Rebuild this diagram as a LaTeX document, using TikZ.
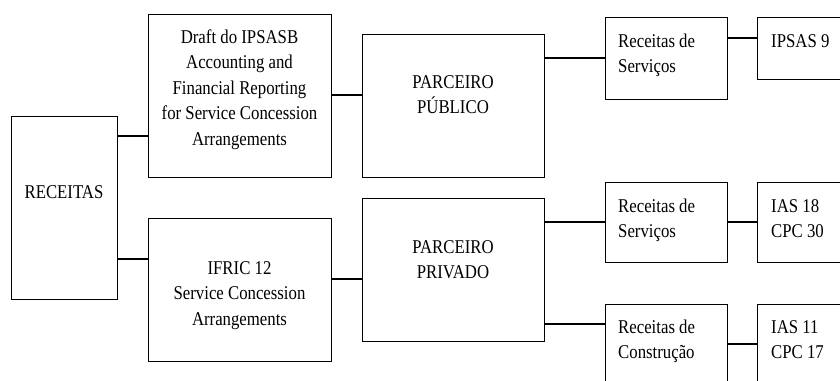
\documentclass[tikz,border=0pt]{standalone}
\usepackage{fontspec}
\setmainfont{Liberation Serif}[FakeStretch=0.86]
\begin{document}
\begin{tikzpicture}[x=1pt,y=-1pt,
  box/.style={draw, line width=1.2pt, inner sep=0pt, anchor=north west},
  link/.style={line width=1.2pt},
  txt/.style={inner sep=0pt, font=\fontsize{19.5}{25.5}\selectfont},
  ctxt/.style={txt, align=center, anchor=north},
  ltxt/.style={txt, align=left, anchor=north west}]
\useasboundingbox (0,0) rectangle (840,380);
\clip (0,0) rectangle (840,380);
% boxes
\node[box, minimum width=106pt, minimum height=183pt] (rec)   at (11,116) {};
\node[box, minimum width=183pt, minimum height=163pt] (draft) at (148,14) {};
\node[box, minimum width=183pt, minimum height=143pt] (ifric) at (148,218) {};
\node[box, minimum width=182pt, minimum height=143pt] (pub)   at (362,34) {};
\node[box, minimum width=182pt, minimum height=143pt] (priv)  at (362,198) {};
\node[box, minimum width=122pt, minimum height=82pt]  (rs1)   at (605,17) {};
\node[box, minimum width=120pt, minimum height=62pt]  (ipsas) at (757,17) {};
\node[box, minimum width=122pt, minimum height=80pt]  (rs2)   at (605,182) {};
\node[box, minimum width=120pt, minimum height=80pt]  (ias18) at (757,182) {};
\node[box, minimum width=122pt, minimum height=90pt]  (rc)    at (605,304) {};
\node[box, minimum width=120pt, minimum height=90pt]  (ias11) at (757,304) {};
% texts
\node[ctxt] (trec) at (64,178) {\rule{0pt}{20pt}RECEITAS};
\node[ctxt] (tdraft) at (239.5,23) {\rule{0pt}{20pt}Draft do IPSASB\\Accounting and\\Financial Reporting\\for Service Concession\\Arrangements};
\node[ctxt] (tifric) at (239.5,254) {\rule{0pt}{20pt}IFRIC 12\\Service Concession\\Arrangements};
\node[ctxt] (tpub) at (453,68) {\rule{0pt}{20pt}PARCEIRO\\PÚBLICO};
\node[ctxt] (tpriv) at (453,233) {\rule{0pt}{20pt}PARCEIRO\\PRIVADO};
\node[ltxt] (trs1) at (618,27) {\rule{0pt}{20pt}Receitas de\\Serviços};
\node[ltxt] (tipsas) at (771,27) {\rule{0pt}{20pt}IPSAS 9};
\node[ltxt] (trs2) at (618,192) {\rule{0pt}{20pt}Receitas de\\Serviços};
\node[ltxt] (tias18) at (771,192) {\rule{0pt}{20pt}IAS 18\\CPC 30};
\node[ltxt] (trc) at (618,313) {\rule{0pt}{20pt}Receitas de\\Construção};
\node[ltxt] (tias11) at (771,313) {\rule{0pt}{20pt}IAS 11\\CPC 17};
% connectors
\draw[link] (rec.east |- 0,136) -- (draft.west |- 0,136);
\draw[link] (rec.east |- 0,259) -- (ifric.west |- 0,259);
\draw[link] (draft.east |- 0,95) -- (pub.west |- 0,95);
\draw[link] (ifric.east |- 0,279) -- (priv.west |- 0,279);
\draw[link] (pub.east |- 0,58) -- (rs1.west |- 0,58);
\draw[link] (rs1.east |- 0,38) -- (ipsas.west |- 0,38);
\draw[link] (priv.east |- 0,222) -- (rs2.west |- 0,222);
\draw[link] (rs2.east |- 0,222) -- (ias18.west |- 0,222);
\draw[link] (priv.east |- 0,324) -- (rc.west |- 0,324);
\draw[link] (rc.east |- 0,344) -- (ias11.west |- 0,344);
\end{tikzpicture}
\end{document}
